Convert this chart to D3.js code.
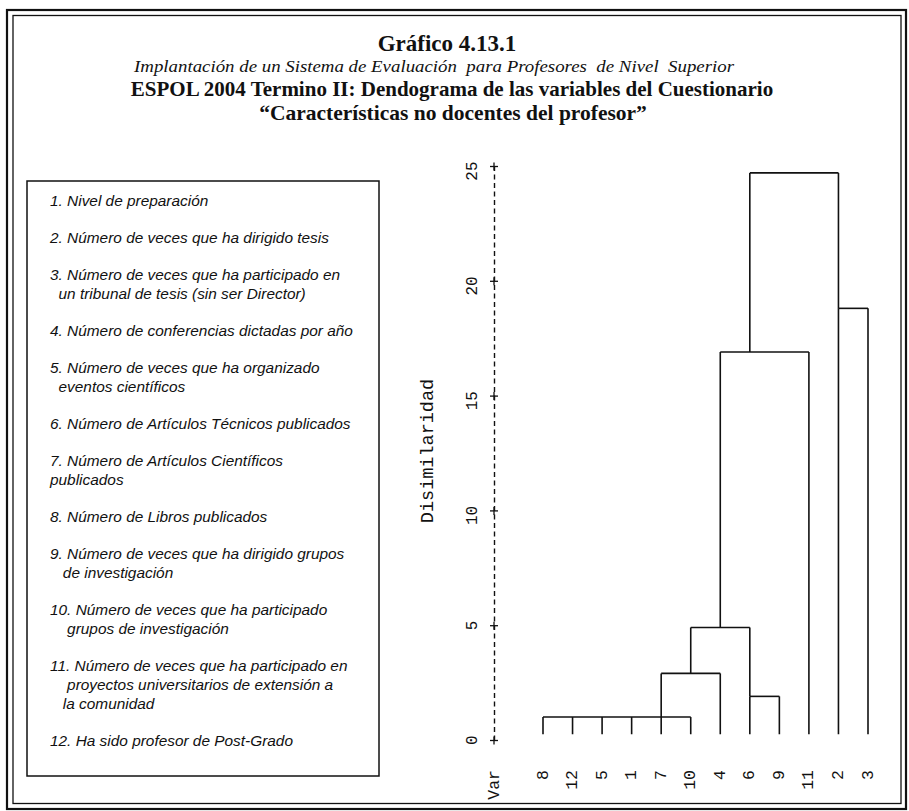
<!DOCTYPE html>
<html><head><meta charset="utf-8">
<script src="https://cdn.jsdelivr.net/npm/d3@7"></script>
<style>body{margin:0;background:#fff}svg{display:block}</style>
</head><body><svg id="c" width="909" height="811"></svg>
<script>
// ---- data ----
const leafLabels = ["8","12","5","1","7","10","4","6","9","11","2","3"];
const leafJoinHeight = [1.0,1.0,1.0,1.0,1.0,1.0,2.9,1.9,1.9,16.9,18.8,18.8];
const mergeHeight = [1.0, 2.9, 1.9, 4.9, 16.9, 18.8, 24.7];
const mergeFrom   = [0, 4, 7, 5, 6, 10, 7];
const mergeTo     = [5, 6, 8, 7, 9, 11, 10];
const mergeStem   = [4, 5, 7, 6, 7, 10, 7];
const mergeParent = [1, 3, 3, 4, 6, 6, -1];
const yTicks = [0, 5, 10, 15, 20, 25];
const yTickLabels = ["0","5","10","15","20","25"];
const leafBase = 0.25;
const titleLines = ["Gráfico 4.13.1",
  "Implantación de un Sistema de Evaluación  para Profesores  de Nivel  Superior",
  "ESPOL 2004 Termino II: Dendograma de las variables del Cuestionario",
  "“Características no docentes del profesor”"];
const legendItems = [
  ["1. Nivel de preparación"],
  ["2. Número de veces que ha dirigido tesis"],
  ["3. Número de veces que ha participado en", "  un tribunal de tesis (sin ser Director)"],
  ["4. Número de conferencias dictadas por año"],
  ["5. Número de veces que ha organizado", "  eventos científicos"],
  ["6. Número de Artículos Técnicos publicados"],
  ["7. Número de Artículos Científicos", "publicados"],
  ["8. Número de Libros publicados"],
  ["9. Número de veces que ha dirigido grupos", "   de investigación"],
  ["10. Número de veces que ha participado", "    grupos de investigación"],
  ["11. Número de veces que ha participado en", "    proyectos universitarios de extensión a", "   la comunidad"],
  ["12. Ha sido profesor de Post-Grado"]
];

// ---- drawing ----
const svg = d3.select("#c");
const ink = "#111";

// frame
svg.append("rect").attr("x",7).attr("y",10).attr("width",899).attr("height",799)
  .attr("fill","none").attr("stroke",ink).attr("stroke-width",2.2);
svg.append("rect").attr("x",13).attr("y",15.5).attr("width",888).attr("height",788)
  .attr("fill","none").attr("stroke",ink).attr("stroke-width",1.3);

// titles
const serif = "'Liberation Serif','Times New Roman',serif";
const tconf = [
  {x:447, y:51, size:23, weight:"bold", style:"normal", len:null},
  {x:434, y:72, size:17.5, weight:"normal", style:"italic", len:600},
  {x:452, y:96, size:21, weight:"bold", style:"normal", len:null},
  {x:453, y:120, size:21.5, weight:"bold", style:"normal", len:null}];
titleLines.forEach((t,i)=>{
  const el = svg.append("text").attr("x",tconf[i].x).attr("y",tconf[i].y).attr("text-anchor","middle")
    .attr("font-family",serif).attr("font-size",tconf[i].size)
    .attr("font-weight",tconf[i].weight).attr("font-style",tconf[i].style)
    .attr("fill",ink).attr("xml:space","preserve").style("white-space","pre").text(t);
  if (tconf[i].len) el.attr("textLength",tconf[i].len).attr("lengthAdjust","spacingAndGlyphs");
});

// legend box
svg.append("rect").attr("x",27).attr("y",181).attr("width",352).attr("height",595)
  .attr("fill","none").attr("stroke",ink).attr("stroke-width",1.5);
let ly = 206;
const lg = svg.append("g").attr("font-family","'Liberation Sans',Arial,sans-serif")
  .attr("font-style","italic").attr("font-size",15.4).attr("fill",ink);
legendItems.forEach(lines=>{
  lines.forEach((ln,j)=>{
    lg.append("text").attr("x",50).attr("y",ly + j*19).attr("xml:space","preserve")
      .style("white-space","pre").text(ln);
  });
  ly += (lines.length-1)*19 + 37;
});

// scales
const x = d3.scaleLinear().domain([0, leafLabels.length-1]).range([543, 868]);
const y = d3.scaleLinear().domain([0, 25]).range([740, 166]);
const mono = "'Liberation Mono','Courier New',monospace";

// axis
const axisX = 494;
const ax = svg.append("g").attr("transform",`translate(${axisX},0)`)
  .call(d3.axisLeft(y).tickValues(yTicks).tickSize(0).tickSizeOuter(0)
    .tickFormat((d,i)=>yTickLabels[i]));
ax.select(".domain").attr("stroke",ink).attr("stroke-width",1.4).attr("stroke-dasharray","5,3.5");
ax.selectAll(".tick").each(function(){
  const g = d3.select(this);
  g.append("line").attr("x1",-4).attr("x2",4).attr("y1",0).attr("y2",0).attr("stroke",ink).attr("stroke-width",1.3);
  g.append("line").attr("x1",0).attr("x2",0).attr("y1",-4).attr("y2",4).attr("stroke",ink).attr("stroke-width",1.3);
});
ax.selectAll(".tick text").attr("transform","rotate(-90)").attr("x",5).attr("y",-21).attr("dy",null)
  .attr("text-anchor","end").attr("dominant-baseline","central")
  .attr("font-family",mono).attr("font-size",16).attr("fill",ink);

svg.append("text").attr("transform",`translate(428,451) rotate(-90)`).attr("text-anchor","middle")
  .attr("dominant-baseline","central").attr("font-family",mono).attr("font-size",18.5)
  .attr("fill",ink).text("Disimilaridad");

// leaf labels
const labY = 770;
svg.append("text").attr("transform",`translate(${axisX},${labY}) rotate(-90)`)
  .attr("text-anchor","end").attr("dominant-baseline","central")
  .attr("font-family",mono).attr("font-size",16.5).attr("fill",ink).text("Var");
svg.selectAll(".leaflab").data(leafLabels).join("text").attr("class","leaflab")
  .attr("transform",(d,i)=>`translate(${x(i)},${labY}) rotate(-90)`)
  .attr("text-anchor","end").attr("dominant-baseline","central")
  .attr("font-family",mono).attr("font-size",16.5).attr("fill",ink).text(d=>d);

// dendrogram lines
const dg = svg.append("g").attr("stroke",ink).attr("stroke-width",1.6).attr("fill","none");
leafLabels.forEach((d,i)=>{
  dg.append("line").attr("x1",x(i)).attr("x2",x(i)).attr("y1",y(leafBase)).attr("y2",y(leafJoinHeight[i]));
});
mergeHeight.forEach((h,k)=>{
  dg.append("line").attr("x1",x(mergeFrom[k])).attr("x2",x(mergeTo[k]))
    .attr("y1",y(h)).attr("y2",y(h));
  if (mergeParent[k] >= 0) {
    dg.append("line").attr("x1",x(mergeStem[k])).attr("x2",x(mergeStem[k]))
      .attr("y1",y(h)).attr("y2",y(mergeHeight[mergeParent[k]]));
  }
});
</script></body></html>
